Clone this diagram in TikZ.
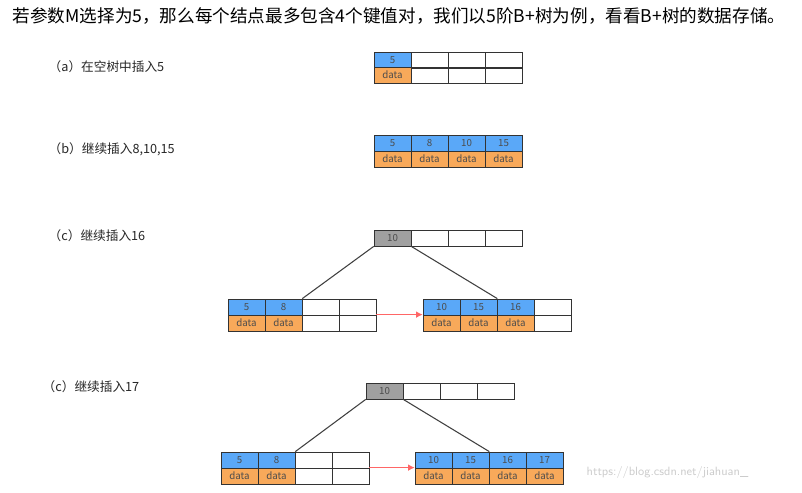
\documentclass[tikz,border=0pt]{standalone}
\usepackage{fontspec}
\setmainfont{Noto Sans CJK SC}
\usetikzlibrary{positioning}
\definecolor{keyblue}{HTML}{5AA8F8}
\definecolor{dataorange}{HTML}{F8A95A}
\definecolor{rootgray}{HTML}{A0A0A0}
\tikzset{
 cell/.style={draw=black!80,line width=0.6pt,minimum width=27.6pt,minimum height=12pt,inner sep=0pt,font=\fontsize{7.3}{8}\selectfont,text=black!70},
 lbl/.style={anchor=west,font=\fontsize{9.5}{11}\selectfont,text=black!85},
 link/.style={draw=black!75,line width=0.8pt},
 next/.style={draw=red!60,line width=0.8pt,-{Latex[length=5pt,width=5pt]}}
}
% row of 4 cells: name, x, y, keys, fill
\newcommand{\keyrow}[5]{%
 \foreach \k [count=\i] in {#4} {
  \ifx\k\empty
   \node[cell] (#1\i) at (#2+37*\i-18.5,#3+8) {};
  \else
   \node[cell,fill=#5] (#1\i) at (#2+37*\i-18.5,#3+8) {\k};
  \fi
 }}
\newcommand{\datarow}[4]{%
 \foreach \k [count=\i] in {#4} {
  \ifx\k\empty
   \node[cell] (#1\i) at (#2+37*\i-18.5,#3+8) {};
  \else
   \node[cell,fill=dataorange] (#1\i) at (#2+37*\i-18.5,#3+8) {data};
  \fi
 }}
\usetikzlibrary{arrows.meta}
\begin{document}
\begin{tikzpicture}[x=0.75pt,y=-0.75pt]
 \useasboundingbox (0,0) rectangle (802,492);
 \node[anchor=west,font=\fontsize{13.2}{15}\selectfont] (title) at (8,16) {若参数M选择为5，那么每个结点最多包含4个键值对，我们以5阶B+树为例，看看B+树的数据存储。};
 % (a)
 \node[lbl] (la) at (44,67) {（a）在空树中插入5};
 \keyrow{ak}{374}{52}{5,,,}{keyblue}
 \datarow{ad}{374}{67}{5,,,}
 % (b)
 \node[lbl] (lb) at (44,149) {（b）继续插入8,10,15};
 \keyrow{bk}{374}{135}{5,8,10,15}{keyblue}
 \datarow{bd}{374}{151}{5,8,10,15}
 % (c)
 \node[lbl] (lc) at (44,236) {（c）继续插入16};
 \keyrow{cr}{374}{230}{10,,,}{rootgray}
 \keyrow{clk}{228}{299}{5,8,,}{keyblue}
 \datarow{cld}{228}{315}{5,8,,}
 \keyrow{crk}{423}{299}{10,15,16,}{keyblue}
 \datarow{crd}{423}{315}{10,15,16,}
 \draw[link] (cr1.south west) -- (clk2.north east);
 \draw[link] (cr1.south east) -- (crk2.north east);
 \draw[next] (cld4.north east) -- (crd1.north west);
 % (d)
 \node[lbl] (ld) at (38,387) {（c）继续插入17};
 \keyrow{dr}{366}{383}{10,,,}{rootgray}
 \keyrow{dlk}{221}{452}{5,8,,}{keyblue}
 \datarow{dld}{221}{468}{5,8,,}
 \keyrow{drk}{415}{452}{10,15,16,17}{keyblue}
 \datarow{drd}{415}{468}{10,15,16,17}
 \draw[link] (dr1.south west) -- (dlk2.north east);
 \draw[link] (dr1.south east) -- (drk2.north east);
 \draw[next] (dld4.north east) -- (drd1.north west);
 \node[anchor=west,font=\fontsize{9}{11}\sffamily,text=black!20] (mark) at (582,472) {https://blog.csdn.net/jiahuan\_};
\end{tikzpicture}
\end{document}
